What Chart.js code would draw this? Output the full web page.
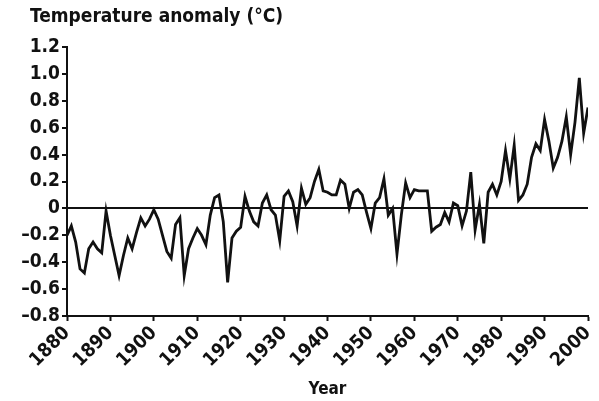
<!DOCTYPE html>
<html>
<head>
<meta charset="utf-8">
<title>Temperature anomaly</title>
<script src="https://cdn.jsdelivr.net/npm/chart.js@4.4.0/dist/chart.umd.min.js"></script>
<style>
    html, body { margin: 0; padding: 0; background: #fff; }
    #grafico { display: block; }
</style>
</head>
<body>
<canvas id="grafico" width="599" height="401"></canvas>
<script>
const titulo = "Temperature anomaly (°C)";
const tituloX = "Year";

const anios = [
    1880, 1881, 1882, 1883, 1884, 1885, 1886, 1887, 1888, 1889,
    1890, 1891, 1892, 1893, 1894, 1895, 1896, 1897, 1898, 1899,
    1900, 1901, 1902, 1903, 1904, 1905, 1906, 1907, 1908, 1909,
    1910, 1911, 1912, 1913, 1914, 1915, 1916, 1917, 1918, 1919,
    1920, 1921, 1922, 1923, 1924, 1925, 1926, 1927, 1928, 1929,
    1930, 1931, 1932, 1933, 1934, 1935, 1936, 1937, 1938, 1939,
    1940, 1941, 1942, 1943, 1944, 1945, 1946, 1947, 1948, 1949,
    1950, 1951, 1952, 1953, 1954, 1955, 1956, 1957, 1958, 1959,
    1960, 1961, 1962, 1963, 1964, 1965, 1966, 1967, 1968, 1969,
    1970, 1971, 1972, 1973, 1974, 1975, 1976, 1977, 1978, 1979,
    1980, 1981, 1982, 1983, 1984, 1985, 1986, 1987, 1988, 1989,
    1990, 1991, 1992, 1993, 1994, 1995, 1996, 1997, 1998, 1999,
    2000
];

const anomalias = [
    -0.20, -0.13, -0.25, -0.45, -0.48, -0.30, -0.25, -0.30, -0.33, -0.02,
    -0.20, -0.35, -0.50, -0.35, -0.22, -0.30, -0.18, -0.07, -0.13, -0.08,
    -0.01, -0.08, -0.20, -0.32, -0.37, -0.12, -0.07, -0.50, -0.30, -0.22,
    -0.15, -0.20, -0.27, -0.05, 0.08, 0.10, -0.10, -0.55, -0.22, -0.17,
    -0.14, 0.09, -0.02, -0.10, -0.13, 0.04, 0.10, -0.01, -0.05, -0.24,
    0.09, 0.13, 0.05, -0.13, 0.15, 0.03, 0.08, 0.20, 0.29, 0.13,
    0.12, 0.10, 0.10, 0.21, 0.18, 0.00, 0.12, 0.14, 0.10, -0.03,
    -0.15, 0.04, 0.08, 0.22, -0.05, 0.00, -0.34, -0.05, 0.19, 0.08,
    0.14, 0.13, 0.13, 0.13, -0.17, -0.14, -0.12, -0.03, -0.10, 0.04,
    0.02, -0.13, -0.02, 0.27, -0.16, 0.03, -0.26, 0.12, 0.18, 0.10,
    0.20, 0.43, 0.22, 0.47, 0.06, 0.10, 0.18, 0.38, 0.48, 0.43,
    0.66, 0.50, 0.30, 0.38, 0.50, 0.68, 0.40, 0.64, 0.97, 0.56,
    0.75
];

const etiquetasX = ["1880", "1890", "1900", "1910", "1920", "1930", "1940",
                    "1950", "1960", "1970", "1980", "1990", "2000"];
const etiquetasY = ["\u20130.8", "\u20130.6", "\u20130.4", "\u20130.2", "0",
                    "0.2", "0.4", "0.6", "0.8", "1.0", "1.2"];

const fuente = '"Liberation Sans Narrow", "DejaVu Sans Condensed", "Liberation Sans", sans-serif';
const negro = "#111";

const puntos = anios.map((a, i) => ({ x: a, y: anomalias[i] }));

// titulo arriba a la izquierda
const tituloPlugin = {
    id: "titulo",
    afterDraw(chart) {
        const c = chart.ctx;
        c.save();
        c.font = "bold 19px " + fuente;
        c.fillStyle = negro;
        c.textBaseline = "top";
        c.fillText(titulo, 30, 8);
        c.restore();
    }
};

const ctx = document.getElementById("grafico").getContext("2d");

new Chart(ctx, {
    type: "line",
    data: {
        datasets: [{
            data: puntos,
            borderColor: negro,
            borderWidth: 2.8,
            pointRadius: 0,
            tension: 0,
            fill: false
        }]
    },
    options: {
        responsive: false,
        animation: false,
        layout: { padding: { left: 0, right: 11, top: 47, bottom: 0 } },
        plugins: {
            legend: { display: false },
            tooltip: { enabled: false }
        },
        scales: {
            x: {
                type: "linear",
                min: 1880,
                max: 2000,
                afterFit: (s) => {
                    s.height = 85;
                    s.paddingLeft = 0;
                    s.paddingRight = 0;
                },
                ticks: {
                    stepSize: 10,
                    minRotation: 45,
                    maxRotation: 45,
                    padding: 1,
                    color: negro,
                    font: { family: fuente, size: 19, weight: "bold" },
                    callback: (v, i) => etiquetasX[i]
                },
                grid: {
                    drawOnChartArea: false,
                    tickColor: negro,
                    tickLength: 5,
                    tickWidth: 2
                },
                border: { display: true, color: negro, width: 2 },
                title: {
                    display: true,
                    text: tituloX,
                    color: negro,
                    font: { family: fuente, size: 17, weight: "bold" },
                    padding: { top: 0, bottom: 1 }
                }
            },
            y: {
                min: -0.8,
                max: 1.2,
                afterFit: (s) => { s.width = 67; },
                ticks: {
                    stepSize: 0.2,
                    padding: 2,
                    color: negro,
                    font: { family: fuente, size: 19, weight: "bold" },
                    callback: (v, i) => etiquetasY[i]
                },
                grid: {
                    color: (c) => (c.tick && Math.abs(c.tick.value) < 1e-9 ? negro : "rgba(0,0,0,0)"),
                    lineWidth: 2,
                    tickColor: negro,
                    tickLength: 5,
                    tickWidth: 2
                },
                border: { display: true, color: negro, width: 2 }
            }
        }
    },
    plugins: [tituloPlugin]
});
</script>
</body>
</html>
